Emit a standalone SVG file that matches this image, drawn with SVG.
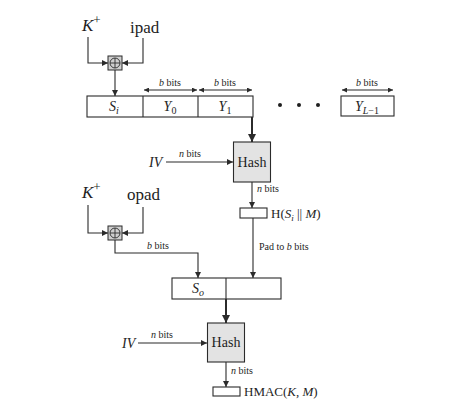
<svg xmlns="http://www.w3.org/2000/svg" width="467" height="406" viewBox="0 0 467 406">
  <style>
    .ln { stroke: #2b2b2b; stroke-width: 1.1; fill: none; }
    .bold { stroke: #2b2b2b; stroke-width: 2; fill: none; }
    .cell { stroke: #2b2b2b; stroke-width: 1.1; fill: #ffffff; }
    .hash { stroke: #2b2b2b; stroke-width: 1.1; fill: #e3e3e3; }
    .xor { stroke: #2b2b2b; stroke-width: 1; fill: #cfcfcf; }
    .t { font-family: "Liberation Serif", "Times New Roman", serif; fill: #1e1e1e; }
    .it { font-style: italic; }
    .sm { font-size: 10px; }
    .md { font-size: 13px; }
    .cl { font-size: 14px; }
    .lg { font-size: 17px; }
  </style>
  <defs>
    <marker id="ah" viewBox="0 0 10 10" refX="10" refY="5" markerWidth="7" markerHeight="6" markerUnits="userSpaceOnUse" orient="auto">
      <path d="M0,0 L10,5 L0,10 z" fill="#2b2b2b"/>
    </marker>
    <marker id="ahs" viewBox="0 0 10 10" refX="10" refY="5" markerWidth="6" markerHeight="5" markerUnits="userSpaceOnUse" orient="auto-start-reverse">
      <path d="M0,0 L10,5 L0,10 z" fill="#2b2b2b"/>
    </marker>
    <marker id="ahb" viewBox="0 0 10 10" refX="10" refY="5" markerWidth="9" markerHeight="8" markerUnits="userSpaceOnUse" orient="auto">
      <path d="M0,0 L10,5 L0,10 z" fill="#2b2b2b"/>
    </marker>
  </defs>

  <!-- inner key input -->
  <g id="kplus1">
    <text class="t it lg" x="82" y="31">K<tspan font-style="normal" font-size="13px" dy="-7">+</tspan></text>
  </g>
  <g id="ipad">
    <text class="t lg" x="130" y="33">ipad</text>
  </g>
  <g id="xor1">
    <rect class="xor" x="108" y="56" width="14" height="14"/>
    <circle cx="115" cy="63" r="5" fill="none" stroke="#2b2b2b" stroke-width="0.9"/>
    <path d="M110,63 H120 M115,58 V68" stroke="#2b2b2b" stroke-width="0.9"/>
  </g>

  <!-- padded message blocks -->
  <g id="row1">
    <rect class="cell" x="87" y="96" width="166" height="21"/>
    <path class="ln" d="M143,96 V117 M198,96 V117"/>
    <text class="t it cl" x="114" y="111" text-anchor="middle">S<tspan font-size="10px" dy="3">i</tspan></text>
    <text class="t it cl" x="170" y="111" text-anchor="middle">Y<tspan font-style="normal" font-size="10px" dy="3">0</tspan></text>
    <text class="t it cl" x="225" y="111" text-anchor="middle">Y<tspan font-style="normal" font-size="10px" dy="3">1</tspan></text>
  </g>
  <g id="dots">
    <circle cx="280" cy="105" r="2" fill="#1e1e1e"/>
    <circle cx="299" cy="105" r="2" fill="#1e1e1e"/>
    <circle cx="318" cy="105" r="2" fill="#1e1e1e"/>
  </g>
  <g id="ylast">
    <rect class="cell" x="341" y="96" width="53" height="20"/>
    <text class="t it cl" x="367" y="111" text-anchor="middle">Y<tspan font-size="10px" dy="3">L</tspan><tspan font-style="normal" font-size="10px">−1</tspan></text>
  </g>

  <!-- inner hash -->
  <g id="hash1">
    <rect class="hash" x="233.5" y="142" width="37" height="40"/>
    <text class="t cl" x="252" y="167" text-anchor="middle">Hash</text>
  </g>
  <g id="iv1">
    <text class="t it cl" x="149" y="167">IV</text>
  </g>
  <g id="inner">
    <rect class="cell" x="240" y="208" width="27" height="10"/>
    <text class="t md" x="271" y="218">H(<tspan font-style="italic">S</tspan><tspan font-style="italic" font-size="9px" dy="3">i</tspan><tspan dy="-3"> || </tspan><tspan font-style="italic">M</tspan>)</text>
  </g>

  <!-- outer key input -->
  <g id="kplus2">
    <text class="t it lg" x="82" y="198">K<tspan font-style="normal" font-size="13px" dy="-7">+</tspan></text>
  </g>
  <g id="opad">
    <text class="t lg" x="127" y="200">opad</text>
  </g>
  <g id="xor2">
    <rect class="xor" x="108" y="226" width="14" height="14"/>
    <circle cx="115" cy="233" r="5" fill="none" stroke="#2b2b2b" stroke-width="0.9"/>
    <path d="M110,233 H120 M115,228 V238" stroke="#2b2b2b" stroke-width="0.9"/>
  </g>

  <g id="row2">
    <rect class="cell" x="172" y="278" width="109" height="21"/>
    <path class="ln" d="M226,278 V299"/>
    <text class="t it cl" x="198" y="293" text-anchor="middle">S<tspan font-size="10px" dy="3">o</tspan></text>
  </g>

  <!-- outer hash -->
  <g id="hash2">
    <rect class="hash" x="207.5" y="323" width="37" height="39"/>
    <text class="t cl" x="226" y="347" text-anchor="middle">Hash</text>
  </g>
  <g id="iv2">
    <text class="t it cl" x="122" y="348">IV</text>
  </g>
  <g id="hmac">
    <rect class="cell" x="213" y="387" width="27" height="9"/>
    <text class="t md" x="244" y="396">HMAC(<tspan font-style="italic">K</tspan>, <tspan font-style="italic">M</tspan>)</text>
  </g>

  <!-- connectors -->
  <g id="connectors">
    <path class="ln" d="M88,37 V63 H108" marker-end="url(#ah)"/>
    <path class="ln" d="M143,38 V63 H122" marker-end="url(#ah)"/>
    <path class="ln" d="M115,70 V96" marker-end="url(#ah)"/>

    <path class="ln" d="M144,90 H197" marker-start="url(#ahs)" marker-end="url(#ahs)"/>
    <path class="ln" d="M199,90 H252" marker-start="url(#ahs)" marker-end="url(#ahs)"/>
    <path class="ln" d="M342,90 H393" marker-start="url(#ahs)" marker-end="url(#ahs)"/>
    <text class="t sm" x="170" y="86" text-anchor="middle"><tspan font-style="italic">b</tspan> bits</text>
    <text class="t sm" x="225" y="86" text-anchor="middle"><tspan font-style="italic">b</tspan> bits</text>
    <text class="t sm" x="367" y="86" text-anchor="middle"><tspan font-style="italic">b</tspan> bits</text>

    <path class="bold" d="M252,117 V142" marker-end="url(#ahb)"/>
    <path class="ln" d="M166,162 H233" marker-end="url(#ah)"/>
    <text class="t sm" x="190" y="157" text-anchor="middle"><tspan font-style="italic">n</tspan> bits</text>
    <path class="ln" d="M252,182 V208" marker-end="url(#ah)"/>
    <text class="t sm" x="257" y="192"><tspan font-style="italic">n</tspan> bits</text>

    <path class="ln" d="M253,218 V278" marker-end="url(#ah)"/>
    <text class="t sm" x="259" y="250">Pad to <tspan font-style="italic">b</tspan> bits</text>

    <path class="ln" d="M88,205 V233 H108" marker-end="url(#ah)"/>
    <path class="ln" d="M143,207 V233 H122" marker-end="url(#ah)"/>
    <path class="ln" d="M115,240 V253 H198 V278" marker-end="url(#ah)"/>
    <text class="t sm" x="158" y="249" text-anchor="middle"><tspan font-style="italic">b</tspan> bits</text>

    <path class="bold" d="M226,299 V323" marker-end="url(#ahb)"/>
    <path class="ln" d="M138,343 H207" marker-end="url(#ah)"/>
    <text class="t sm" x="162" y="338" text-anchor="middle"><tspan font-style="italic">n</tspan> bits</text>
    <path class="ln" d="M226,362 V387" marker-end="url(#ah)"/>
    <text class="t sm" x="231" y="374"><tspan font-style="italic">n</tspan> bits</text>
  </g>
</svg>
